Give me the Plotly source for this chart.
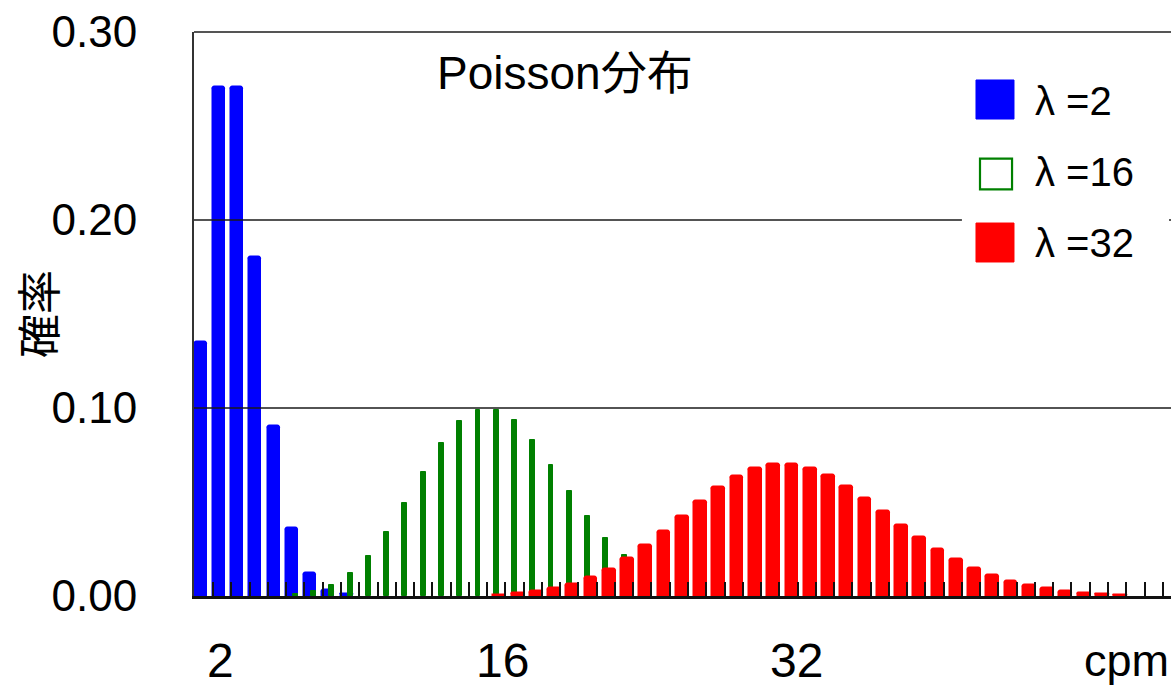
import plotly.graph_objects as go

# ---- data ----
blue_k = list(range(0, 9))
blue_p = [0.1353, 0.2707, 0.2707, 0.1804, 0.0902, 0.0361, 0.0120, 0.0034, 0.0009]

green_k = list(range(5, 25))
green_p = [0.0010, 0.0026, 0.0060, 0.0120, 0.0213, 0.0341, 0.0496, 0.0661, 0.0814, 0.0930,
           0.0992, 0.0992, 0.0934, 0.0830, 0.0699, 0.0559, 0.0426, 0.0310, 0.0216, 0.0144]

red_k = list(range(16, 51))
red_p = [0.0007, 0.0014, 0.0025, 0.0041, 0.0066, 0.0101, 0.0146, 0.0203, 0.0271, 0.0347,
         0.0427, 0.0506, 0.0579, 0.0638, 0.0681, 0.0703, 0.0703, 0.0682, 0.0642, 0.0587,
         0.0521, 0.0451, 0.0380, 0.0312, 0.0249, 0.0195, 0.0148, 0.0110, 0.0080, 0.0057,
         0.0040, 0.0027, 0.0018, 0.0012, 0.0008]

series_names = ["λ =2", "λ =16", "λ =32"]
y_ticks = [0.0, 0.1, 0.2, 0.3]
x_tick_labels = ["2", "16", "32"]
x_tick_label_pos = [0.9, 16.37, 32.46]
x_unit_label = "cpm"
x_unit_pos = 50.53
title_text = "Poisson分布"
y_title = "確率"

BLUE, GREEN, RED = "#0000FF", "#008000", "#FF0000"
LAT = "Liberation Sans, Arial, sans-serif"
CJK = "Noto Sans CJK JP, sans-serif"

fig = go.Figure()
fig.add_trace(go.Bar(x=blue_k, y=blue_p, name=series_names[0], width=0.66, offset=-0.52,
                     marker=dict(color=BLUE, line=dict(color=BLUE, width=1.5), cornerradius=3),
                     showlegend=False))
fig.add_trace(go.Bar(x=green_k, y=green_p, name=series_names[1], width=0.27, offset=-0.135,
                     marker=dict(color=GREEN, line=dict(color=GREEN, width=1)),
                     showlegend=False))
fig.add_trace(go.Bar(x=red_k, y=red_p, name=series_names[2], width=0.70, offset=-0.16,
                     marker=dict(color=RED, line=dict(color=RED, width=1.5), cornerradius=3),
                     showlegend=False))

shapes = []
# gridlines drawn above bars as in the reference
for v in y_ticks[1:3]:
    shapes.append(dict(type="line", xref="paper", yref="y", x0=0, x1=1, y0=v, y1=v,
                       line=dict(color="#1a1a1a", width=1.6), layer="above"))
# top border
shapes.append(dict(type="line", xref="paper", yref="paper", x0=0, x1=1, y0=1, y1=1,
                   line=dict(color="#555555", width=2), layer="above"))
# legend box background
shapes.append(dict(type="rect", xref="paper", yref="paper", x0=0.786, x1=0.998, y0=0.557, y1=0.954,
                   fillcolor="white", line=dict(width=0), layer="above"))
# legend symbols
shapes.append(dict(type="rect", xref="paper", yref="paper", x0=0.8004, x1=0.8393, y0=0.8457, y1=0.9149,
                   fillcolor=BLUE, line=dict(color=BLUE, width=1), layer="above"))
shapes.append(dict(type="rect", xref="paper", yref="paper", x0=0.8045, x1=0.8373, y0=0.7210, y1=0.7755,
                   fillcolor="white", line=dict(color=GREEN, width=2.2), layer="above"))
shapes.append(dict(type="rect", xref="paper", yref="paper", x0=0.8004, x1=0.8393, y0=0.5922, y1=0.6613,
                   fillcolor=RED, line=dict(color=RED, width=1), layer="above"))

annotations = []
annotations.append(dict(text=title_text, xref="paper", yref="paper", x=0.3797, y=0.9273,
                        xanchor="center", yanchor="middle", showarrow=False,
                        font=dict(family="Liberation Sans, Noto Sans CJK JP, sans-serif", size=46, color="black")))
annotations.append(dict(text=y_title, xref="paper", yref="paper", x=-0.1607, y=0.5, textangle=-90,
                        xanchor="center", yanchor="middle", showarrow=False,
                        font=dict(family=CJK, size=44, color="black")))
for lab, pos in zip(x_tick_labels, x_tick_label_pos):
    annotations.append(dict(text=lab, xref="x", yref="paper", x=pos, y=-0.1135,
                            xanchor="center", yanchor="middle", showarrow=False,
                            font=dict(family=LAT, size=48, color="black")))
annotations.append(dict(text=x_unit_label, xref="x", yref="paper", x=x_unit_pos, y=-0.1135,
                        xanchor="center", yanchor="middle", showarrow=False,
                        font=dict(family=LAT, size=45, color="black")))
for lab, ypos in zip(series_names, [0.8777, 0.7518, 0.6259]):
    annotations.append(dict(text=lab,
                            xref="paper", yref="paper", x=0.8588, y=ypos,
                            xanchor="left", yanchor="middle", showarrow=False,
                            font=dict(family=LAT, size=40, color="black")))

fig.update_layout(
    width=1171, height=688,
    margin=dict(l=194, r=0, t=32, b=92),
    paper_bgcolor="white", plot_bgcolor="white",
    barmode="overlay", bargap=0,
    shapes=shapes, annotations=annotations,
    showlegend=False,
    xaxis=dict(range=[-0.55, 52.95], showgrid=False, zeroline=False,
               showline=True, linecolor="#111111", linewidth=3,
               ticks="inside", tick0=0.5, dtick=1, ticklen=14, tickwidth=2, tickcolor="#111111",
               showticklabels=False, layer="above traces"),
    yaxis=dict(range=[0, 0.3], showgrid=False, zeroline=False,
               showline=True, linecolor="#333333", linewidth=2,
               tickvals=y_ticks, tickformat=".2f", ticks="",
               ticklabelstandoff=46,
               tickfont=dict(family=LAT, size=44, color="black")),
)

fig.write_html("out.html")
